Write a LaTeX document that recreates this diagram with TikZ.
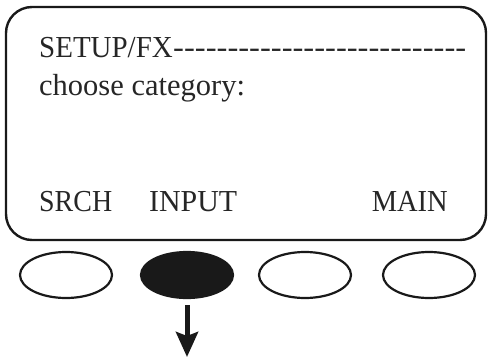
\documentclass[tikz,border=0pt]{standalone}
\usepackage{fontspec}
\usepackage{graphicx}
\newfontfamily\lcdfont{Liberation Serif}
\usetikzlibrary{shapes.geometric,arrows.meta}
\tikzset{
  screen/.style={draw=black!90, line width=2.4pt, rounded corners=26pt},
  lcd/.style={inner sep=0pt, font=\lcdfont\fontsize{30.5}{33}\selectfont, text=black!85},
  softkey/.style={ellipse, draw=black!90, line width=2.2pt, minimum width=92pt, minimum height=46pt, inner sep=0pt},
  pressed/.style={softkey, fill=black!90},
  pointer/.style={line width=5pt, -{Stealth[length=25pt, width=22pt, inset=4pt]}, black!90}
}
\begin{document}
\begin{tikzpicture}[x=1pt, y=-1pt]
\useasboundingbox (0,0) rectangle (489,356);
\draw[screen] (6,7) rectangle (486,240);
\node[lcd, anchor=base west] (title) at (39,57) {\scalebox{0.95}[1]{SETUP/FX}};
\node[lcd, anchor=base west] (dashes) at (title.base east) {\resizebox{293pt}{\height}{---------------------------}};
\node[lcd, anchor=base west] (prompt) at (39,95) {choose category:};
\node[lcd, anchor=base west] (srch) at (39,211) {\resizebox{73pt}{\height}{SRCH}};
\node[lcd, anchor=base west] (input) at (149,211) {\resizebox{88pt}{\height}{INPUT}};
\node[lcd, anchor=base east] (main) at (448,211) {\resizebox{76pt}{\height}{MAIN}};
\node[softkey] (k1) at (66,275) {};
\node[pressed] (k2) at (187,275) {};
\node[softkey] (k3) at (305,275) {};
\node[softkey] (k4) at (429,275) {};
\coordinate (tip) at (187,357);
\draw[pointer] ([yshift=-6pt]k2.south) -- (tip);
\end{tikzpicture}
\end{document}
